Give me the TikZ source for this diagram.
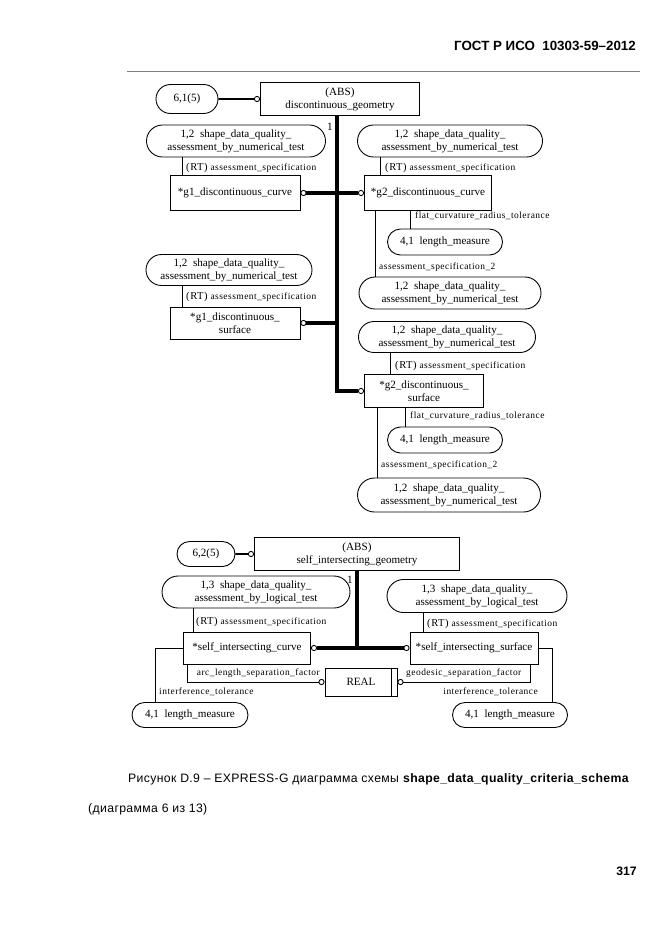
\documentclass[tikz,border=0pt]{standalone}
\usepackage{fontspec}
\setmainfont{Liberation Serif}
\newfontfamily\capfont[LetterSpace=3]{Liberation Sans}
\newfontfamily\headfont{Liberation Sans}
\newfontfamily\rolefont[LetterSpace=5]{Liberation Serif}
\usetikzlibrary{shapes.misc,arrows.meta}

\newcommand{\rtmark}{{\fontsize{9.5}{10}\selectfont (RT)}}

\tikzset{
  ring/.tip={Circle[open,length=5.5pt,line width=0.8pt]},
  ent/.style 2 args={rectangle,draw,line width=0.8pt,minimum width=#1*0.9pt,minimum height=#2*0.9pt},
  refer/.style 2 args={rounded rectangle,draw,line width=0.8pt,minimum width=#1*0.9pt,minimum height=#2*0.9pt},
  role/.style={font=\rolefont\fontsize{8.5}{9}\selectfont,anchor=west},
  rel/.style={line width=0.7pt},
  sub/.style={line width=2.8pt},
  link/.style={line width=1.7pt}
}

\begin{document}
\begin{tikzpicture}[x=0.9pt,y=-0.9pt,
    every node/.style={font=\fontsize{10}{11.5}\selectfont,align=center,inner sep=0pt}]
    \useasboundingbox (0,0) rectangle (661,935);

    % page head
    \node[anchor=east,font=\headfont\bfseries\fontsize{12}{14}\selectfont] at (636,46) (hdr) {ГОСТ Р ИСО\ \ 10303-59–2012};
    \draw[gray,line width=0.6pt] (127,71) -- (640,71);

    % discontinuous_geometry
    \node[refer={62}{29}] at (187,99) (o61) {6,1(5)};
    \node[ent={159}{33}] at (340,99) (abs1) {(ABS)\\discontinuous\_geometry};
    \node[refer={179}{32}] at (236,141) (aL1) {1,2\ \ shape\_data\_quality\_\\assessment\_by\_numerical\_test};
    \node[refer={185}{32}] at (450,141) (aR1) {1,2\ \ shape\_data\_quality\_\\assessment\_by\_numerical\_test};
    \node[ent={130}{35}] at (235,193) (g1c) {*g1\_discontinuous\_curve};
    \node[ent={127}{35}] at (428,193) (g2c) {*g2\_discontinuous\_curve};
    \node[refer={115}{26}] at (445,242) (lmA) {4,1\ \ length\_measure};
    \node[refer={182}{32}] at (450,293) (aR2) {1,2\ \ shape\_data\_quality\_\\assessment\_by\_numerical\_test};
    \node[refer={166}{31}] at (229,270) (aL2) {1,2\ \ shape\_data\_quality\_\\assessment\_by\_numerical\_test};
    \node[ent={130}{32}] at (235,323) (g1s) {*g1\_discontinuous\_\\surface};
    \node[refer={177}{31}] at (447,337) (aR3) {1,2\ \ shape\_data\_quality\_\\assessment\_by\_numerical\_test};
    \node[ent={119}{33}] at (424,391) (g2s) {*g2\_discontinuous\_\\surface};
    \node[refer={115}{26}] at (445,440) (lmB) {4,1\ \ length\_measure};
    \node[refer={183}{34}] at (449,495) (aR4) {1,2\ \ shape\_data\_quality\_\\assessment\_by\_numerical\_test};

    \coordinate (tkA) at (337,391);
    \draw[link,-ring] (o61) -- (abs1);
    \draw[sub,-ring] (abs1.south -| 337,0) -- (tkA) -- (g2s.west);
    \draw[sub,ring-ring] (g1c) -- (g2c);
    \draw[sub,-ring] (g1s.east -| 337,0) -- (g1s.east);
    \node at (330,127) (m1) {1};

    \draw[rel] (182,0 |- aL1.south) -- (182,0 |- g1c.north);
    \draw[rel] (380,0 |- aR1.south) -- (380,0 |- g2c.north);
    \draw[rel] (410,0 |- g2c.south) -- (410,0 |- lmA.north);
    \draw[rel] (375,0 |- g2c.south) -- (375,0 |- aR2.north);
    \draw[rel] (182,0 |- aL2.south) -- (182,0 |- g1s.north);
    \draw[rel] (390,0 |- aR3.south) -- (390,0 |- g2s.north);
    \draw[rel] (405,0 |- g2s.south) -- (405,0 |- lmB.north);
    \draw[rel] (377,0 |- g2s.south) -- (377,0 |- aR4.north);

    \node[role] at (186,168) (rlA) {\rtmark\ assessment\_specification};
    \node[role] at (385,168) (rlB) {\rtmark\ assessment\_specification};
    \node[role] at (415,216) (ftA) {flat\_curvature\_radius\_tolerance};
    \node[role] at (379,267) (asA) {assessment\_specification\_2};
    \node[role] at (186,297) (rlC) {\rtmark\ assessment\_specification};
    \node[role] at (395,366) (rlD) {\rtmark\ assessment\_specification};
    \node[role] at (410,416) (ftB) {flat\_curvature\_radius\_tolerance};
    \node[role] at (381,465) (asB) {assessment\_specification\_2};

    % self_intersecting_geometry
    \node[refer={58}{25}] at (206,554) (o62) {6,2(5)};
    \node[ent={205}{33}] at (357,554) (abs2) {(ABS)\\self\_intersecting\_geometry};
    \node[refer={188}{32}] at (256,592) (bL) {1,3\ \ shape\_data\_quality\_\\assessment\_by\_logical\_test};
    \node[refer={180}{33}] at (477,596) (bR) {1,3\ \ shape\_data\_quality\_\\assessment\_by\_logical\_test};
    \node[ent={127}{32}] at (247,648) (sic) {*self\_intersecting\_curve};
    \node[ent={128}{32}] at (474,648) (sis) {*self\_intersecting\_surface};
    \node[ent={72}{28}] at (361,682) (real) {REAL};
    \node[refer={116}{25}] at (190,715) (lmC) {4,1\ \ length\_measure};
    \node[refer={115}{25}] at (510,715) (lmD) {4,1\ \ length\_measure};
    \draw[line width=0.8pt] ([xshift=-5.4pt]real.north east) -- ([xshift=-5.4pt]real.south east);

    \coordinate (tkB) at (357,648);
    \draw[link,-ring] (o62) -- (abs2);
    \draw[sub] (abs2.south) -- (tkB);
    \draw[sub,ring-ring] (sic) -- (sis);
    \node at (350,580) (m2) {1};

    \draw[rel] (193,0 |- bL.south) -- (193,0 |- sic.north);
    \draw[rel] (423,0 |- bR.south) -- (423,0 |- sis.north);
    \draw[rel,-ring] (187,0 |- sic.south) |- (real.west);
    \draw[rel,-ring] (530,0 |- sis.south) |- (real.east);
    \draw[rel] (sic.west) -| (155,0 |- lmC.north);
    \draw[rel] (sis.east) -| (552,0 |- lmD.north);

    \node[role] at (196,622) (rlE) {\rtmark\ assessment\_specification};
    \node[role] at (427,624) (rlF) {\rtmark\ assessment\_specification};
    \node[role,anchor=east] at (320,673) (arcL) {arc\_length\_separation\_factor};
    \node[role] at (406,673) (geoL) {geodesic\_separation\_factor};
    \node[role] at (159,692) (itA) {interference\_tolerance};
    \node[role,anchor=east] at (538,692) (itB) {interference\_tolerance};

    % caption
    \node[anchor=west,font=\capfont\fontsize{11}{12}\selectfont] at (128,779) (cap1) {Рисунок D.9 – EXPRESS-G диаграмма схемы \textbf{shape\_data\_quality\_criteria\_schema}};
    \node[anchor=west,font=\capfont\fontsize{11}{12}\selectfont] at (88,809) (cap2) {(диаграмма 6 из 13)};
    \node[anchor=east,font=\headfont\bfseries\fontsize{11}{13}\selectfont] at (637,871) (pg) {317};
\end{tikzpicture}
\end{document}
